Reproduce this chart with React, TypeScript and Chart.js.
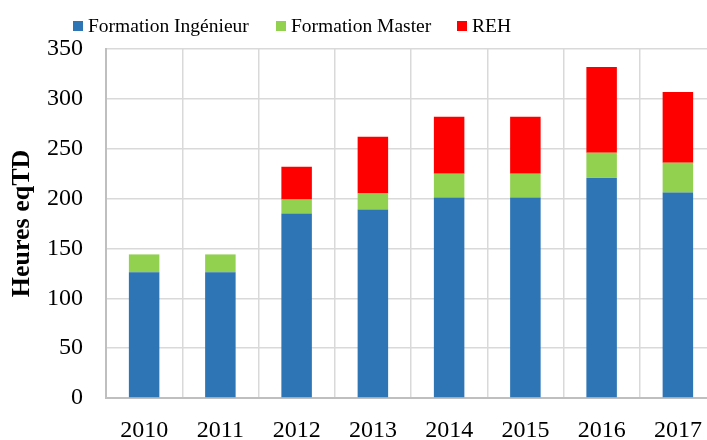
import React, { useEffect, useRef } from 'react';
import { Chart, registerables } from 'chart.js';

Chart.register(...registerables);

const categories = ['2010', '2011', '2012', '2013', '2014', '2015', '2016', '2017'];
const ingenieur = [126, 126, 185, 189, 201, 201, 221, 206];
const master = [18, 18, 14, 16, 24, 24, 25, 30];
const reh = [null, null, 33, 57, 57, 57, 86, 71];
const yTicks = [0, 50, 100, 150, 200, 250, 300, 350];

const seriesNames = ['Formation Ingénieur', 'Formation Master', 'REH'];
const seriesColors = ['#2E75B6', '#92D050', '#FF0000'];

const FONT = "'Liberation Serif', 'Times New Roman', serif";

export default function App() {
  const ref = useRef<HTMLCanvasElement>(null);

  useEffect(() => {
    const chart = new Chart(ref.current as HTMLCanvasElement, {
      type: 'bar',
      data: {
        labels: categories,
        datasets: [
          { label: seriesNames[0], data: ingenieur, backgroundColor: seriesColors[0] },
          { label: seriesNames[1], data: master, backgroundColor: seriesColors[1] },
          { label: seriesNames[2], data: reh as any, backgroundColor: seriesColors[2] },
        ],
      },
      options: {
        animation: false,
        responsive: false,
        devicePixelRatio: 1,
        layout: { padding: { top: 49, right: 14, left: 0, bottom: 0 } },
        plugins: { legend: { display: false }, tooltip: { enabled: false } },
        datasets: { bar: { categoryPercentage: 1, barPercentage: 0.4 } },
        scales: {
          x: {
            stacked: true,
            grid: { color: '#d9d9d9', lineWidth: 1.5, drawTicks: false, offset: true },
            border: { color: '#bfbfbf', width: 2 },
            ticks: { font: { family: FONT, size: 24 }, color: '#000', padding: 18 },
            afterFit: (s: any) => { s.height = 42; },
          },
          y: {
            stacked: true,
            min: 0,
            max: 350,
            afterBuildTicks: (s: any) => { s.ticks = yTicks.map((v) => ({ value: v })); },
            grid: { color: '#d9d9d9', lineWidth: 1.5, drawTicks: false },
            border: { color: '#bfbfbf', width: 2 },
            ticks: { font: { family: FONT, size: 24 }, color: '#000', padding: 23 },
            title: {
              display: true,
              text: 'Heures eqTD',
              font: { family: FONT, size: 26, weight: 'bold' },
              color: '#000',
              padding: { top: 7, bottom: 0 },
            },
            afterFit: (s: any) => { s.width = 106; },
          },
        },
      },
    } as any);
    return () => chart.destroy();
  }, []);

  const legendLefts = [73, 276, 457];

  return (
    <div style={{ position: 'fixed', left: 0, top: 0, width: 707, height: 440, overflow: 'hidden', background: '#fff' }}>
      <canvas ref={ref} width={730} height={440} style={{ position: 'absolute', left: 0, top: 0, width: 730, height: 440 }} />
      {seriesNames.map((name, i) => (
        <div
          key={name}
          style={{
            position: 'absolute',
            left: legendLefts[i],
            top: 12,
            height: 28,
            display: 'flex',
            alignItems: 'center',
            whiteSpace: 'nowrap',
            fontFamily: FONT,
            fontSize: 19.5,
            color: '#000',
          }}
        >
          <span style={{ display: 'inline-block', width: 10, height: 10, background: seriesColors[i], marginRight: 5 }} />
          <span>{name}</span>
        </div>
      ))}
    </div>
  );
}
